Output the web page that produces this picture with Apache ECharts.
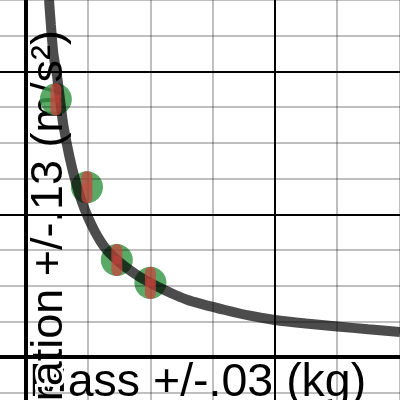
<!DOCTYPE html>
<html><head><meta charset="utf-8">
<script src="https://cdn.jsdelivr.net/npm/echarts@6/dist/echarts.min.js"></script>
<style>html,body{margin:0;padding:0;background:#fff}#c{width:400px;height:400px}</style>
</head><body><div id="c"></div>
<script>
// Measured points
const massData = [0.24, 0.49, 0.73, 1.0];
const accelData = [3.61, 2.38, 1.36, 1.04];
const massErr = 0.03;
const accelErr = 0.15;
// Fitted curve
const curveMass  = [0.185, 0.20, 0.22, 0.25, 0.275, 0.30, 0.35, 0.40, 0.45, 0.50, 0.55, 0.60, 0.65, 0.70, 0.75, 0.80, 0.90, 1.0, 1.1, 1.2, 1.3, 1.4, 1.6, 1.8, 2.0, 2.25, 2.5, 2.75, 3.006];
const curveAccel = [5.0,   4.65, 4.25, 3.93, 3.58,  3.25, 2.80, 2.45, 2.17, 1.95, 1.77, 1.62, 1.50, 1.41, 1.33, 1.26, 1.14, 1.04, 0.95, 0.87, 0.80, 0.75, 0.66, 0.58, 0.52, 0.47, 0.43, 0.39, 0.35];
// Grid lines
const xMinorLines = [0.5, 1, 1.5, 2.5, 3];
const xMajorLines = [2];
const yMinorLines = [-0.5, 0.5, 1, 1.5, 2.5, 3, 3.5, 4.5, 5];
const yMajorLines = [2, 4];
const xRange = [-0.209, 3.006];
const yRange = [-0.6, 5.0];
const xLabel = 'Mass +/-.03 (kg)';
const yLabel = 'Acceleration +/-.13 (m/s²)';

const chart = echarts.init(document.getElementById('c'), null, {renderer: 'canvas'});
const minorStyle = {color: 'rgba(0,0,0,0.25)', width: 2, type: 'solid'};
const majorStyle = {color: '#000', width: 2, type: 'solid'};
const gridMarks = []
  .concat(xMinorLines.map(v => ({xAxis: v, lineStyle: minorStyle})))
  .concat(yMinorLines.map(v => ({yAxis: v, lineStyle: minorStyle})))
  .concat(xMajorLines.map(v => ({xAxis: v, lineStyle: majorStyle})))
  .concat(yMajorLines.map(v => ({yAxis: v, lineStyle: majorStyle})));

const FAM = '"Liberation Sans", Arial, sans-serif';
chart.setOption({
  animation: false,
  grid: {left: 0, right: 0, top: 0, bottom: 0, containLabel: false},
  xAxis: {type: 'value', min: xRange[0], max: xRange[1], z: 7,
    axisLine: {show: true, onZero: true, lineStyle: {color: '#000', width: 4}},
    axisTick: {show: false}, axisLabel: {show: false}, splitLine: {show: false}},
  yAxis: {type: 'value', min: yRange[0], max: yRange[1], z: 7,
    axisLine: {show: true, onZero: true, lineStyle: {color: '#000', width: 4}},
    axisTick: {show: false}, axisLabel: {show: false}, splitLine: {show: false}},
  series: [
    {type: 'line', z: 1, silent: true, data: [[0, 0]], symbol: 'none', lineStyle: {opacity: 0},
      markLine: {silent: true, symbol: ['none', 'none'], label: {show: false}, animation: false,
        emphasis: {disabled: true}, data: gridMarks}},
    {type: 'scatter', z: 3, silent: true, symbol: 'circle', symbolSize: 32,
      itemStyle: {color: '#3d9a4c', opacity: 0.85},
      data: massData.map((m, i) => [m, accelData[i]])},
    {type: 'line', z: 4, silent: true, smooth: 0.25, showSymbol: false, symbol: 'none',
      lineStyle: {color: 'rgba(0,0,0,0.7)', width: 10},
      data: curveMass.map((m, i) => [m, curveAccel[i]])},
    {type: 'custom', z: 5, silent: true,
      data: massData.map((m, i) => [m, accelData[i]]),
      renderItem(params, api) {
        const m = api.value(0), a = api.value(1);
        const t = api.coord([m, a + accelErr]), b = api.coord([m, a - accelErr]);
        const l = api.coord([m - massErr, a]), r = api.coord([m + massErr, a]);
        const st = {stroke: 'rgba(205,68,62,0.72)', lineWidth: 11, lineCap: 'round', fill: null};
        return {type: 'group', children: [
          {type: 'line', shape: {x1: t[0], y1: t[1], x2: b[0], y2: b[1]}, style: st},
          {type: 'line', shape: {x1: l[0], y1: l[1], x2: r[0], y2: r[1]}, style: {stroke: 'rgba(205,68,62,0.35)', lineWidth: 8, lineCap: 'butt', fill: null}}
        ]};
      }}
  ],
  graphic: [
    {type: 'text', z: 2, x: 29, y: 383, silent: true,
      style: {text: xLabel, font: '46.5px ' + FAM, fill: '#000', stroke: '#fff', lineWidth: 6,
        align: 'left', verticalAlign: 'middle'}},
    {type: 'text', z: 2, x: 50, y: 30, rotation: Math.PI / 2, silent: true,
      style: {text: yLabel, font: '45px ' + FAM, fill: '#000', stroke: '#fff', lineWidth: 6,
        align: 'right', verticalAlign: 'middle'}}
  ]
});
</script></body></html>
